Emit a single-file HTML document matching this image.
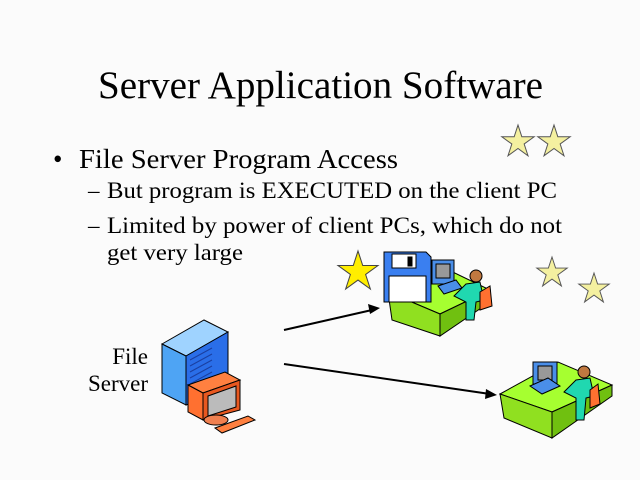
<!DOCTYPE html>
<html><head><style>
html,body{margin:0;padding:0;background:#fbfbfb;}
svg{display:block}
text{font-family:"Liberation Serif",serif;fill:#000}
</style></head><body>
<svg width="640" height="480" viewBox="0 0 640 480" xmlns="http://www.w3.org/2000/svg">
<rect width="640" height="480" fill="#fbfbfb"/>
<text x="98" y="98" font-size="39" textLength="445" lengthAdjust="spacingAndGlyphs">Server Application Software</text>
<text x="53" y="168" font-size="27">•</text>
<text x="79" y="168" font-size="27" textLength="319" lengthAdjust="spacingAndGlyphs">File Server Program Access</text>
<text x="88" y="198" font-size="23">–</text>
<text x="107" y="198" font-size="23" textLength="450" lengthAdjust="spacingAndGlyphs">But program is EXECUTED on the client PC</text>
<text x="88" y="233" font-size="23">–</text>
<text x="107" y="233" font-size="23" textLength="455" lengthAdjust="spacingAndGlyphs">Limited by power of client PCs, which do not</text>
<text x="107" y="260" font-size="23" textLength="136" lengthAdjust="spacingAndGlyphs">get very large</text>
<text x="148" y="364" font-size="23" text-anchor="end">File</text>
<text x="148" y="391" font-size="23" text-anchor="end">Server</text>
<defs>
<polygon id="st" points="0,-1 0.225,-0.309 0.951,-0.309 0.363,0.118 0.588,0.809 0,0.382 -0.588,0.809 -0.363,0.118 -0.951,-0.309 -0.225,-0.309"/>
</defs>
<g stroke="#555" stroke-width="1">
<use href="#st" transform="translate(518,142) scale(17)" fill="#f4f0a0" stroke-width="0.06"/>
<use href="#st" transform="translate(554,142) scale(17)" fill="#f4f0a0" stroke-width="0.06"/>
<use href="#st" transform="translate(552,273) scale(16)" fill="#f4f0a0" stroke-width="0.06"/>
<use href="#st" transform="translate(594,289) scale(16)" fill="#f4f0a0" stroke-width="0.06"/>
<use href="#st" transform="translate(358,272) scale(21)" fill="#ffee00" stroke="#444" stroke-width="0.05"/>
</g>
<line x1="284" y1="330" x2="372" y2="310" stroke="#000" stroke-width="2"/>
<polygon points="380,308 368,304 370,314" fill="#000"/>
<line x1="284" y1="364" x2="490" y2="394" stroke="#000" stroke-width="2"/>
<polygon points="497,395 486,389 485,399" fill="#000"/>
<g stroke="#000" stroke-width="1">
<polygon points="162,344 204,320 228,332 186,356" fill="#9fd3ff"/>
<polygon points="162,344 186,356 186,405 162,393" fill="#4ea4f4"/>
<polygon points="186,356 228,332 228,390 186,405" fill="#2a6ee8"/>
<g stroke="#1a3fa0" stroke-width="1">
<line x1="190" y1="360" x2="212" y2="348"/><line x1="190" y1="366" x2="212" y2="354"/><line x1="190" y1="372" x2="212" y2="360"/><line x1="190" y1="378" x2="212" y2="366"/><line x1="190" y1="384" x2="212" y2="372"/>
</g>
<polygon points="188,385 225,372 240,380 203,393" fill="#ff8040"/>
<polygon points="188,385 203,393 203,420 188,412" fill="#ff7030"/>
<polygon points="203,393 240,380 240,410 203,420" fill="#e85820"/>
<polygon points="208,396 236,386 236,407 208,416" fill="#bbb"/>
<ellipse cx="216" cy="420" rx="12" ry="5" fill="#f08050"/>
<polygon points="215,428 248,416 255,420 222,433" fill="#ff8040"/>
</g>
<g stroke="#000" stroke-width="1">
<polygon points="388,292 432,262 490,290 440,314" fill="#a6ff30"/>
<polygon points="388,292 440,314 440,336 392,320" fill="#90e020"/>
<polygon points="440,314 490,290 490,302 440,336" fill="#70c010"/>
<rect x="432" y="260" width="22" height="24" fill="#4a8ee8"/>
<rect x="436" y="264" width="14" height="14" fill="#999"/>
<polygon points="438,286 456,280 462,288 444,294" fill="#4a8ee8"/>
<circle cx="476" cy="276" r="6" fill="#c07840"/>
<path d="M466,284 l14,-2 l4,18 l-8,2 l-2,18 h-8 l0,-18 l-12,-6 z" fill="#20d8b0"/>
<path d="M480,292 l10,-6 l2,20 l-12,4 z" fill="#ff7030"/>
<path d="M384,252 h42 l5,5 v45 h-47 z" fill="#3a7ff0"/>
<rect x="392" y="254" width="24" height="14" fill="#fff"/>
<rect x="408" y="257" width="4" height="9" fill="#000"/>
<rect x="389" y="276" width="37" height="26" fill="#fff"/>
</g>
<g stroke="#000" stroke-width="1">
<polygon points="500,394 558,362 612,385 552,412" fill="#a6ff30"/>
<polygon points="500,394 552,412 552,438 504,418" fill="#90e020"/>
<polygon points="552,412 612,385 612,396 552,438" fill="#70c010"/>
<rect x="533" y="362" width="24" height="22" fill="#4a8ee8"/>
<rect x="538" y="366" width="14" height="14" fill="#999"/>
<polygon points="530,386 548,378 560,386 542,394" fill="#4a8ee8"/>
<circle cx="584" cy="372" r="6" fill="#c07840"/>
<path d="M576,380 l14,-2 l4,18 l-8,2 l-2,22 h-8 l0,-22 l-12,-6 z" fill="#20d8b0"/>
<path d="M590,390 l8,-6 l2,20 l-10,4 z" fill="#ff7030"/>
</g>
</svg>
</body></html>
